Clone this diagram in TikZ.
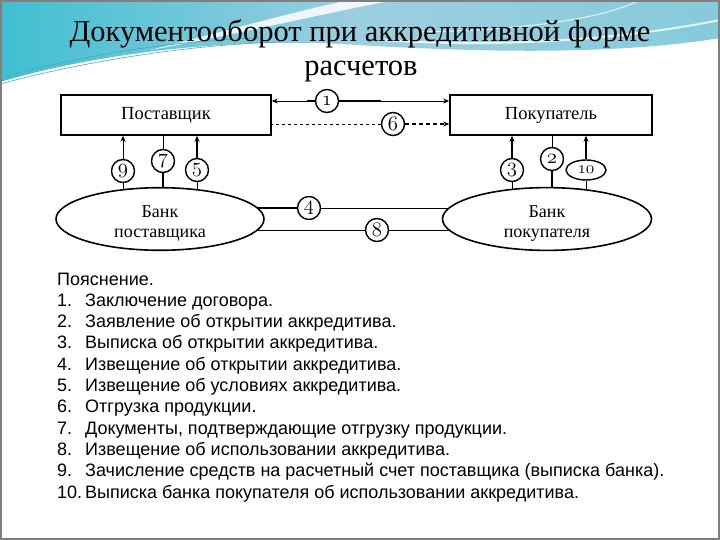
\documentclass[tikz,border=0pt]{standalone}
\usepackage{fontspec}
\setmainfont{Liberation Serif}
\newfontfamily\listfont{Liberation Sans}
\usetikzlibrary{shapes.geometric,arrows.meta}
\newcommand{\osnum}[1]{{\usefont{OML}{cmm}{m}{it}#1}}
\definecolor{hdrA}{HTML}{3FBFD2}
\definecolor{hdrB}{HTML}{9CCFE0}
\definecolor{hdrC}{HTML}{86CADB}
\definecolor{frameG}{HTML}{7F7F7F}
\pgfdeclarelayer{bgl}
\pgfsetlayers{bgl,main}
\begin{document}
\begin{tikzpicture}[x=1pt,y=-1pt,
  boxn/.style={draw,line width=1.6pt,minimum height=40pt,inner sep=0pt,fill=white,font=\fontsize{18.5}{20}\selectfont},
  bank/.style={ellipse,draw,line width=1.6pt,minimum width=208pt,minimum height=58pt,inner sep=0pt,fill=white,align=center,font=\fontsize{18}{19.5}\selectfont},
  num/.style={circle,draw,line width=1.4pt,minimum size=23pt,inner sep=0pt,fill=white,font=\fontsize{20.74}{20}\selectfont},
  nume/.style={ellipse,draw,line width=1.4pt,minimum width=40pt,minimum height=20pt,inner sep=0pt,fill=white,font=\fontsize{17.28}{17}\selectfont},
  lnthin/.style={line width=0.8pt},
  lnthick/.style={line width=1.6pt},
  arr/.style={-{Stealth[length=6pt,width=5pt]}},
  lst/.style={anchor=base west,inner sep=0pt,font=\listfont\fontsize{18}{20}\selectfont},
  ttl/.style={anchor=base,inner sep=0pt,font=\fontsize{30.5}{34}\selectfont}]
\useasboundingbox (0,0) rectangle (720,540);
% header background
\shade[left color=hdrA,right color=hdrC,middle color=hdrB]
  (0,0) -- (720,0) -- (720,38) .. controls (610,56) and (470,52) .. (340,44)
  .. controls (220,38) and (90,55) .. (0,82) -- cycle;
\fill[white,opacity=0.85] (150,50) .. controls (230,30) and (300,10) .. (350,0) -- (395,0)
  .. controls (320,14) and (240,34) .. (150,50) -- cycle;
\draw[white,line width=2pt,opacity=0.8] (380,40) .. controls (500,48) and (620,40) .. (720,20);
\draw[white,line width=1pt,opacity=0.8] (640,0) .. controls (600,20) and (520,30) .. (420,32);
\draw[hdrA!70!gray,line width=0.8pt] (0,78) .. controls (80,55) and (180,40) .. (260,38);
\draw[hdrA!60!gray,line width=0.6pt] (0,84) .. controls (90,60) and (190,45) .. (280,42);
% frame
\draw[frameG,line width=1.5pt] (1,1) rectangle (719,539);
% title
\node[ttl] (t1) at (360,42) {Документооборот при аккредитивной форме};
\node[ttl] (t2) at (361,76) {расчетов};
% boxes
\node[boxn,minimum width=210pt] (sup) at (166,115) {Поставщик};
\node[boxn,minimum width=202pt] (buy) at (551,115) {Покупатель};
\node[bank] (bk1) at (160,219) {\rule{0pt}{21pt}Банк\\поставщика};
\node[bank,minimum width=209pt] (bk2) at (547,219) {\rule{0pt}{21pt}Банк\\покупателя};
% number circles
\node[num] (c1) at (327,101) {\osnum{1}};
\node[num] (c6) at (393,124) {\osnum{6}};
\node[num] (c9) at (123,171) {\osnum{9}};
\node[num] (c7) at (163,161) {\osnum{7}};
\node[num] (c5) at (197,170) {\osnum{5}};
\node[num] (c3) at (512,170) {\osnum{3}};
\node[num] (c2) at (552,159) {\osnum{2}};
\node[nume] (c10) at (586,170) {\osnum{10}};
\node[num] (c4) at (309,208) {\osnum{4}};
\node[num] (c8) at (377,230) {\osnum{8}};
% connector 1
\draw[lnthin,arr] (c1) -- (c1 -| sup.east);
\draw[lnthin,arr] (c1) -- (c1 -| buy.west);
\draw[lnthick] (c1.east) -- ++(42,0);
\draw[lnthick] (c1.west) -- ++(-8,0);
% connector 6
\draw[lnthin,dashed] (c6) -- (c6 -| sup.east);
\draw[lnthick,dash pattern=on 4pt off 3pt,arr] (c6) -- (c6 -| buy.west);
% verticals up into the boxes
\draw[lnthin,arr] (c9) -- (c9 |- sup.south);
\draw[lnthin] (c7) -- (c7 |- sup.south);
\draw[lnthick,arr] (c5) -- (c5 |- sup.south);
\draw[lnthick,arr] (c3) -- (c3 |- buy.south);
\draw[lnthin] (c2) -- (c2 |- buy.south);
\draw[lnthick,arr] (c10) -- (c10 |- buy.south);
% lines that run into the banks (behind them)
\begin{pgfonlayer}{bgl}
\draw[lnthin] (c9) -- (c9 |- bk1.center);
\draw[lnthick] (c7) -- (c7 |- bk1.center);
\draw[lnthin] (c5) -- (c5 |- bk1.center);
\draw[lnthin] (c3) -- (c3 |- bk2.center);
\draw[lnthick] (c2) -- (c2 |- bk2.center);
\draw[lnthin] (c10) -- (c10 |- bk2.center);
\draw[lnthick] (c4 -| bk1.center) -- (c4);
\draw[lnthin] (c4) -- (c4 -| bk2.center);
\draw[lnthin] (c8 -| bk1.center) -- (c8);
\draw[lnthin] (c8) -- (c8 -| bk2.center);
\end{pgfonlayer}
% legend
\node[lst] (l0) at (57,285) {Пояснение.};
\node[lst] (n1) at (57,306.3) {1.};
\node[lst] (l1) at (85,306.3) {Заключение договора.};
\node[lst] (n2) at (57,327.6) {2.};
\node[lst] (l2) at (85,327.6) {Заявление об открытии аккредитива.};
\node[lst] (n3) at (57,348.9) {3.};
\node[lst] (l3) at (85,348.9) {Выписка об открытии аккредитива.};
\node[lst] (n4) at (57,370.2) {4.};
\node[lst] (l4) at (85,370.2) {Извещение об открытии аккредитива.};
\node[lst] (n5) at (57,391.5) {5.};
\node[lst] (l5) at (85,391.5) {Извещение об условиях аккредитива.};
\node[lst] (n6) at (57,412.8) {6.};
\node[lst] (l6) at (85,412.8) {Отгрузка продукции.};
\node[lst] (n7) at (57,434.1) {7.};
\node[lst] (l7) at (85,434.1) {Документы, подтверждающие отгрузку продукции.};
\node[lst] (n8) at (57,455.4) {8.};
\node[lst] (l8) at (85,455.4) {Извещение об использовании аккредитива.};
\node[lst] (n9) at (57,476.7) {9.};
\node[lst] (l9) at (85,476.7) {Зачисление средств на расчетный счет поставщика (выписка банка).};
\node[lst] (n10) at (57,498) {10.};
\node[lst] (l10) at (85,498) {Выписка банка покупателя об использовании аккредитива.};
\end{tikzpicture}
\end{document}
